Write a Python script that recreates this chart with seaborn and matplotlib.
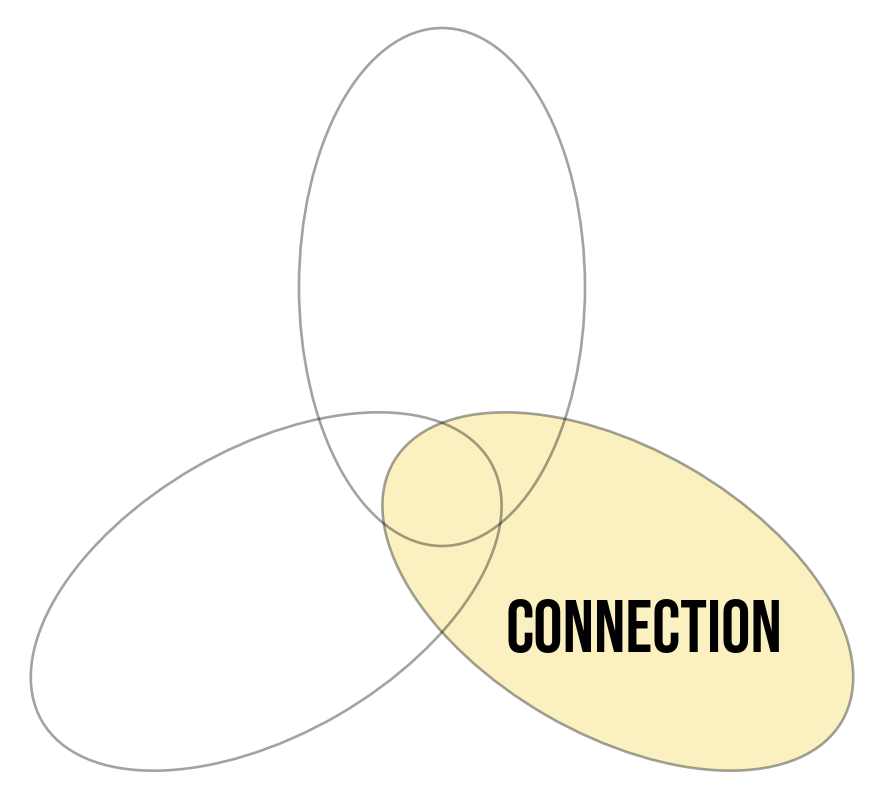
import numpy as np
import matplotlib
matplotlib.use("Agg")
import matplotlib.pyplot as plt
from matplotlib.patches import Ellipse
import seaborn as sns

# -------------------------------------------------
# Data: three overlapping sets, one highlighted
# -------------------------------------------------
set_labels = ["", "", "CONNECTION"]
set_angles = [90, 210, 330]          # direction of each set from the center
highlighted = [False, False, True]

# -------------------------------------------------
# Layout (pixel space)
# -------------------------------------------------
W, H = 883, 805
CX, CY = 442, 490        # center of symmetry
DIST = 203               # distance of each ellipse center from CX, CY
MAJOR, MINOR = 518, 286  # full axes lengths

sns.set_style("white")
plt.rcParams["font.family"] = ["Bebas Neue", "Oswald", "Barlow Condensed", "DejaVu Sans"]

fig = plt.figure(figsize=(W / 100, H / 100), dpi=100)
ax = fig.add_axes([0, 0, 1, 1])
ax.set_xlim(0, W)
ax.set_ylim(H, 0)
ax.set_aspect("equal")
ax.axis("off")

fill_col = "#faf0c0"
edge_col = (0, 0, 0, 0.36)

# fills first
for ang, hl in zip(set_angles, highlighted):
    if not hl:
        continue
    a = np.deg2rad(ang)
    x = CX + DIST * np.cos(a)
    y = CY - DIST * np.sin(a)
    ax.add_patch(Ellipse((x, y), MINOR, MAJOR, angle=90 - ang,
                         facecolor=fill_col, edgecolor="none", zorder=1))

# outlines on top
for ang in set_angles:
    a = np.deg2rad(ang)
    x = CX + DIST * np.cos(a)
    y = CY - DIST * np.sin(a)
    ax.add_patch(Ellipse((x, y), MINOR, MAJOR, angle=90 - ang,
                         facecolor="none", edgecolor=edge_col, lw=1.9, zorder=2))

# labels
for ang, lab in zip(set_angles, set_labels):
    if not lab:
        continue
    ax.text(644, 652, lab, ha="center", va="baseline", fontsize=53,
            color="black", zorder=3)

fig.savefig("out.png", dpi=100)
